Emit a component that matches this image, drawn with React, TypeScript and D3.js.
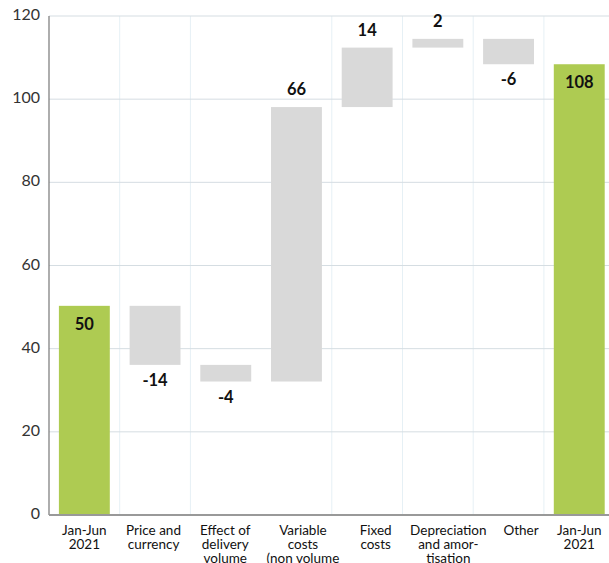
import React from 'react';
import * as d3 from 'd3';

const categories = [
  ['Jan-Jun', '2021'],
  ['Price and', 'currency'],
  ['Effect of', 'delivery', 'volume'],
  ['Variable', 'costs', '(non volume', 'related)'],
  ['Fixed', 'costs'],
  ['Depreciation', 'and amor-', 'tisation'],
  ['Other'],
  ['Jan-Jun', '2021'],
];

// start, changes, end
const values = [50.3, -14.2, -4.0, 66.0, 14.3, 2.1, -6.1, 108.4];
const isTotal = [true, false, false, false, false, false, false, true];
const labels = ['50', '-14', '-4', '66', '14', '2', '-6', '108'];
const yTicks = [0, 20, 40, 60, 80, 100, 120];
// small horizontal nudges of the category labels, as in the original layout
const labelShift = [0, -1.5, -0.5, 6.5, 8.5, 10.5, 12.5, 0];

const width = 609;
const height = 563;
const left = 49;
const top = 16;
const bottom = 515;

const App: React.FC = () => {
  const x = d3
    .scaleBand<number>()
    .domain(d3.range(categories.length))
    .range([left, left + 70.7 * categories.length])
    .paddingInner(0.28)
    .paddingOuter(0.14);
  const y = d3.scaleLinear().domain([0, 120]).range([bottom, top]);

  // build floating segments
  let running = 0;
  const bars = values.map((v, i) => {
    let lo: number;
    let hi: number;
    if (isTotal[i]) {
      lo = 0;
      hi = v;
      running = v;
    } else {
      const next = running + v;
      lo = Math.min(running, next);
      hi = Math.max(running, next);
      running = next;
    }
    return { i, lo, hi, v, total: isTotal[i] };
  });

  const step = x.step();
  const font = 'Lato, "Open Sans", sans-serif';

  return (
    <svg width={width} height={height} style={{ position: 'absolute', left: 0, top: 0 }}>
      <rect width={width} height={height} fill="#fff" />
      {/* vertical band separators */}
      {[1, 2, 4, 5, 6, 7].map((k) => (
        <line
          key={`v${k}`}
          x1={left + step * k}
          x2={left + step * k}
          y1={top}
          y2={bottom}
          stroke="#e6f0f5"
          strokeWidth={1}
        />
      ))}
      {/* horizontal grid */}
      {yTicks.map((t) => (
        <g key={`t${t}`}>
          {t > 0 && (
            <line x1={left} x2={width} y1={y(t)} y2={y(t)} stroke="#d5dde2" strokeWidth={1} />
          )}
          <text
            x={40}
            y={y(t)}
            textAnchor="end"
            dominantBaseline="middle"
            fontFamily={font}
            fontSize={16}
            fill="#333"
          >
            {t}
          </text>
        </g>
      ))}
      {/* bars */}
      {bars.map((b) => (
        <rect
          key={`b${b.i}`}
          x={x(b.i)}
          y={y(b.hi)}
          width={x.bandwidth()}
          height={y(b.lo) - y(b.hi)}
          fill={b.total ? '#aecb52' : '#d9d9d9'}
        />
      ))}
      {/* axes */}
      <line x1={left} x2={left} y1={top} y2={bottom} stroke="#777" strokeWidth={1.2} />
      <line x1={left} x2={width} y1={bottom} y2={bottom} stroke="#999" strokeWidth={2} />
      {/* value labels */}
      {bars.map((b) => {
        const cx = (x(b.i) as number) + x.bandwidth() / 2;
        let ly: number;
        if (b.total) ly = y(b.hi) + 20;
        else if (b.v >= 0) ly = y(b.hi) - 16;
        else ly = y(b.lo) + 17;
        return (
          <text
            key={`l${b.i}`}
            x={cx}
            y={ly}
            textAnchor="middle"
            dominantBaseline="middle"
            fontFamily={font}
            fontSize={16.5}
            fontWeight="bold"
            fill="#111"
          >
            {labels[b.i]}
          </text>
        );
      })}
      {/* category labels */}
      {categories.map((lines, i) => {
        const cx = (x(i) as number) + x.bandwidth() / 2 + labelShift[i];
        return (
          <text
            key={`c${i}`}
            x={cx}
            y={535}
            textAnchor="middle"
            fontFamily={font}
            fontSize={13.5}
            fill="#111"
          >
            {lines.map((ln, j) => (
              <tspan key={j} x={cx} dy={j === 0 ? 0 : 14}>
                {ln}
              </tspan>
            ))}
          </text>
        );
      })}
    </svg>
  );
};

export default App;
